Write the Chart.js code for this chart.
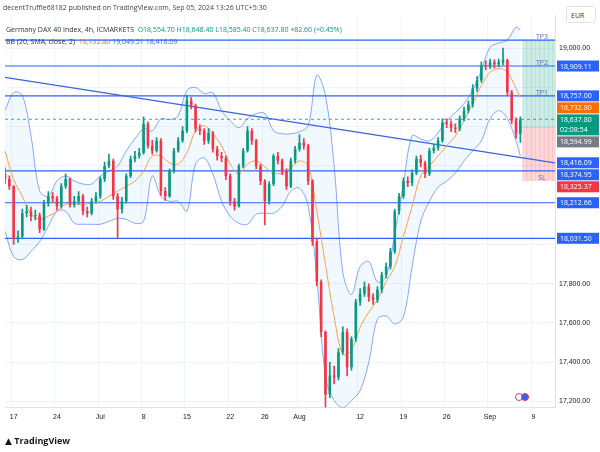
<!DOCTYPE html>
<html>
<head>
<meta charset="utf-8">
<script src="https://cdn.jsdelivr.net/npm/chart.js@4.4.1/dist/chart.umd.min.js"></script>
<style>
  html, body { margin: 0; padding: 0; background: #fff; }
  #wrap { position: relative; width: 600px; height: 452px; font-family: "Open Sans", "DejaVu Sans", sans-serif; }
  #chart { position: absolute; left: 0; top: 0; }
  .txt { position: absolute; white-space: nowrap; font-size: 7px; color: #333; }
  .up { color: #089981; }
  .org { color: #ff6d00; }
  .blu { color: #2962ff; }
  #eur { position: absolute; left: 566px; top: 6px; width: 30px; height: 17px; border: 1px solid #e0e3eb; border-radius: 3px;
         font-size: 7px; line-height: 17px; padding-left: 4px; box-sizing: border-box; background: #fff; color: #333; }
  .ico { position: absolute; width: 8px; height: 8px; border-radius: 50%; top: 393px; box-sizing: border-box; }
</style>
</head>
<body>
<div id="wrap">
  <canvas id="chart" width="600" height="452"></canvas>
  <div class="txt" style="left:3px;top:3px;color:#444;">decentTruffle68182 published on TradingView.com, Sep 05, 2024 13:26 UTC+5:30</div>
  <div class="txt" style="left:6px;top:25px;">Germany DAX 40 Index, 4h, ICMARKETS &nbsp;<span class="up">O18,554.70 H18,648.40 L18,585.40 C18,637.80 +82.60 (+0.45%)</span></div>
  <div class="txt" style="left:6px;top:37px;">BB (20, SMA, close, 2) &nbsp;<span class="org">18,732.80</span> <span class="blu">19,049.51</span> <span class="blu">18,416.09</span></div>
  <div id="eur">EUR</div>
  <div class="ico" style="left:515px;border:1px solid #ab47bc;"></div>
  <div class="ico" style="left:521px;border:1px solid #f23645;background:#2962ff;"></div>
  <div class="txt" style="left:5px;top:434px;font-size:9px;font-weight:bold;color:#131722;">&#9650; TradingView</div>
</div>
<script>
// 4h-ish candles, two per trading day, Jun 14 .. Sep 5, then empty future slots
const opens = [18360,18333,18297,18026,18041,18159,18169,18144,18149,18077,18210,18246,18236,18195,18297,18333,18205,18220,18246,18169,
  18159,18220,18246,18333,18400,18426,18246,18179,18220,18349,18436,18451,18467,18615,18503,18477,18528,18272,18246,18374,
  18477,18528,18579,18733,18708,18590,18579,18528,18569,18487,18451,18441,18349,18220,18195,18400,18477,18579,18528,18400,
  18323,18220,18308,18451,18426,18374,18297,18426,18487,18518,18503,18323,18015,17810,17554,17236,17333,17323,17451,17554,
  17374,17518,17708,17749,17785,17733,17718,17769,17846,17887,17964,18169,18246,18323,18313,18364,18436,18415,18359,18477,
  18492,18528,18621,18615,18595,18590,18641,18682,18713,18795,18836,18913,18908,18928,18918,18928,18938,18774,18631,18564];
const closes = [18333,18297,18026,18041,18159,18169,18144,18149,18077,18210,18246,18236,18195,18297,18333,18205,18220,18246,18169,18159,
  18220,18246,18333,18400,18426,18246,18179,18220,18349,18436,18451,18467,18615,18503,18477,18528,18272,18246,18374,18477,
  18528,18579,18733,18708,18590,18579,18528,18569,18487,18451,18441,18349,18220,18195,18400,18477,18579,18528,18400,18323,
  18220,18308,18451,18426,18374,18297,18426,18487,18518,18503,18323,18015,17810,17554,17236,17333,17323,17451,17554,17374,
  17518,17708,17749,17785,17733,17718,17769,17846,17887,17964,18169,18246,18323,18313,18364,18436,18415,18359,18477,18492,
  18528,18621,18615,18595,18590,18641,18682,18713,18795,18836,18913,18908,18928,18918,18928,18938,18774,18631,18564,18638];
const highs = [18390,18350,18300,18070,18180,18200,18190,18175,18160,18225,18270,18265,18245,18310,18360,18340,18245,18270,18255,18190,
  18235,18265,18345,18420,18460,18435,18260,18240,18360,18450,18475,18490,18650,18625,18530,18545,18540,18290,18385,18490,
  18545,18600,18760,18750,18715,18610,18590,18590,18575,18500,18470,18450,18360,18235,18410,18490,18600,18590,18535,18410,
  18330,18320,18460,18470,18435,18385,18440,18500,18560,18540,18510,18330,18030,17820,17560,17400,17380,17470,17580,17570,
  17530,17720,17775,17810,17800,17750,17785,17860,17905,17980,18180,18260,18340,18345,18380,18450,18455,18425,18490,18510,
  18545,18640,18640,18630,18615,18655,18700,18730,18815,18855,18930,18935,18945,18940,18945,19000,18945,18785,18645,18650];
const lows = [18310,18280,18000,18010,18030,18140,18120,18125,18060,18070,18195,18215,18175,18185,18285,18190,18190,18205,18150,18140,
  18150,18210,18235,18320,18390,18230,18030,18160,18210,18340,18420,18440,18460,18490,18460,18470,18250,18225,18240,18365,
  18470,18520,18570,18690,18575,18560,18510,18515,18470,18430,18420,18330,18200,18175,18190,18390,18470,18510,18385,18305,
  18100,18205,18300,18410,18355,18280,18290,18415,18475,18485,18305,17995,17790,17530,17170,17220,17290,17310,17440,17330,
  17360,17505,17690,17735,17710,17695,17705,17755,17830,17875,17955,18155,18235,18295,18300,18355,18395,18340,18350,18465,
  18480,18520,18595,18575,18570,18580,18630,18670,18700,18780,18825,18890,18895,18900,18905,18915,18760,18615,18540,18520];

// Bollinger band read once per trading day (slot 2*d), last point at the final candle
const bbUpper = [18682,18774,18759,18554,18272,18246,18323,18349,18323,18308,18308,18349,18374,18400,18477,18538,18590,18579,18641,18636,
  18656,18785,18800,18769,18774,18682,18631,18595,18641,18667,18667,18579,18564,18564,18574,18605,18862,18759,18400,17860,
  17745,17887,17913,17810,17836,18056,18308,18554,18538,18528,18569,18631,18672,18718,18785,18887,19005,19026,19041,19108,19092];
const bbMiddle = [18477,18330,18246,18154,18128,18144,18169,18205,18205,18205,18210,18220,18246,18272,18297,18323,18374,18451,18451,18415,
  18410,18467,18579,18605,18564,18503,18410,18359,18410,18426,18395,18364,18364,18390,18426,18400,18169,17897,17631,17441,
  17462,17579,17656,17718,17810,17887,18041,18195,18349,18400,18451,18503,18554,18631,18718,18810,18877,18897,18877,18795,18749];
const bbLower = [18067,17938,17923,17964,18015,18092,18169,18169,18108,18103,18103,18103,18118,18133,18128,18108,18118,18349,18246,18220,
  18220,18169,18410,18441,18359,18220,18144,18108,18103,18154,18159,18159,18195,18272,18287,18195,17836,17323,17205,17169,
  17205,17256,17400,17620,17636,17595,17631,17887,18118,18220,18292,18323,18364,18426,18477,18528,18641,18682,18641,18528,18451];

const levels = [19041, 18909.11, 18757, 18374.95, 18212.66, 18031.5];
const lastPrice = 18637.8;
const trendStart = 18851, trendEnd = 18416.09;
const entry = 18594.99, stopLoss = 18325.37, target = 19041;
const priceTicks = [17200,17400,17600,17800,18000,18200,18400,18600,18800,19000];
const shownTicks = [17200,17400,17600,17800,19000];

const tickLabels = {2:'17',12:'24',22:'Jul',32:'8',42:'15',52:'22',60:'26',68:'Aug',82:'12',92:'19',102:'26',112:'Sep',122:'9'};
const badges = [
  [18909.11,'18,909.11','#2962ff'],[18757,'18,757.00','#2962ff'],[18732.8,'18,732.80','#ff6d00'],
  [18637.8,'18,637.80','#089981','02:08:54'],[18594.99,'18,594.99','#787b86'],[18416.09,'18,416.09','#2962ff'],
  [18374.95,'18,374.95','#2962ff'],[18325.37,'18,325.37','#f23645'],[18212.66,'18,212.66','#2962ff'],[18031.5,'18,031.50','#2962ff']];
const zoneText = [[19041,'TP3'],[18909.11,'TP2'],[18757,'TP1'],[18325.37,'SL']];

const N = 128;
const labels = Array.from({length: N}, (_, i) => i);
const pad = (arr) => labels.map(i => i < arr.length ? arr[i] : null);
const perDay = (arr) => labels.map(i => {
  if (i === 119) return arr[60];
  return (i % 2 === 0 && i / 2 < 60) ? arr[i / 2] : null;
});
const ends = (a, b) => labels.map(i => i === 0 ? a : (i === N - 1 ? b : null));
const zone = (lo, hi) => labels.map(i => i >= 120 ? [lo, hi] : null);

const bodyColor = closes.map((c, i) => c >= opens[i] ? '#089981' : '#f23645');
const fmt = v => v.toLocaleString('en-US', {minimumFractionDigits: 2, maximumFractionDigits: 2});

const datasets = [
  { type: 'bar', data: pad(closes.map((c, i) => [opens[i], c])), backgroundColor: bodyColor, grouped: false,
    barPercentage: 0.6, categoryPercentage: 1, order: 0 },
  { type: 'bar', data: pad(closes.map((c, i) => [lows[i], highs[i]])), backgroundColor: bodyColor, grouped: false,
    barThickness: 1, order: 1 },
  { type: 'line', data: perDay(bbUpper), borderColor: 'rgba(41,98,255,0.55)', borderWidth: 1, pointRadius: 0,
    spanGaps: true, tension: 0.35, fill: '+1', backgroundColor: 'rgba(33,150,243,0.06)', order: 3 },
  { type: 'line', data: perDay(bbLower), borderColor: 'rgba(41,98,255,0.55)', borderWidth: 1, pointRadius: 0,
    spanGaps: true, tension: 0.35, fill: false, order: 3 },
  { type: 'line', data: perDay(bbMiddle), borderColor: '#ff9f50', borderWidth: 1, pointRadius: 0,
    spanGaps: true, tension: 0.35, fill: false, order: 2 },
  { type: 'line', data: ends(trendStart, trendEnd), borderColor: '#3f63d8', borderWidth: 1.3, pointRadius: 0, spanGaps: true, order: 4 },
  { type: 'line', data: ends(lastPrice, lastPrice), borderColor: '#089981', borderWidth: 0.8, borderDash: [3, 3], pointRadius: 0, spanGaps: true, order: 4 },
  { type: 'bar', data: zone(entry, target), backgroundColor: 'rgba(8,153,129,0.2)', grouped: false, barPercentage: 1, categoryPercentage: 1, order: 6 },
  { type: 'bar', data: zone(stopLoss, entry), backgroundColor: 'rgba(242,54,69,0.2)', grouped: false, barPercentage: 1, categoryPercentage: 1, order: 6 }
];
levels.forEach(v => datasets.push({ type: 'line', data: ends(v, v), borderColor: '#2962ff', borderWidth: 1.2,
  pointRadius: 0, spanGaps: true, order: 4 }));

const overlay = {
  id: 'overlay',
  afterDraw(chart) {
    const ctx = chart.ctx, y = chart.scales.y, x = chart.scales.x;
    ctx.save();
    ctx.font = '7px "Open Sans", sans-serif';
    ctx.fillStyle = '#5d6aa0';
    ctx.textAlign = 'center';
    zoneText.forEach(([v, t]) => ctx.fillText(t, x.getPixelForValue(124), y.getPixelForValue(v) - 1));
    let prevBottom = -1e9;
    ctx.textAlign = 'left';
    badges.forEach(([v, t, col, sub]) => {
      const h = sub ? 21 : 11;
      let top = y.getPixelForValue(v) - 5.5;
      if (top < prevBottom + 1) top = prevBottom + 1;
      prevBottom = top + h;
      ctx.fillStyle = col;
      ctx.fillRect(557, top, 42, h);
      ctx.fillStyle = '#fff';
      ctx.fillText(t, 560, top + 8);
      if (sub) ctx.fillText(sub, 560, top + 18);
    });
    ctx.restore();
  }
};

new Chart(document.getElementById('chart'), {
  type: 'bar',
  data: { labels, datasets },
  options: {
    responsive: false, animation: false,
    layout: { padding: { top: 15, bottom: 26, left: 0, right: 0 } },
    plugins: { legend: { display: false }, tooltip: { enabled: false } },
    scales: {
      x: {
        offset: false,
        grid: { color: ctx => tickLabels[ctx.index] !== undefined ? '#f0f3fa' : 'transparent', drawTicks: false },
        border: { color: '#e0e3eb' },
        ticks: { autoSkip: false, maxRotation: 0, color: '#131722', font: { size: 7 }, padding: 5,
                 callback: (v, i) => tickLabels[i] || '' }
      },
      y: {
        position: 'right', min: 17169, max: 19169,
        afterFit: s => { s.width = 45; },
        afterBuildTicks: s => { s.ticks = priceTicks.map(v => ({ value: v })); },
        grid: { color: '#f0f3fa', drawTicks: false },
        border: { color: '#e0e3eb' },
        ticks: { color: '#131722', font: { size: 7 }, padding: 4, callback: v => shownTicks.includes(v) ? fmt(v) : '' }
      }
    }
  },
  plugins: [overlay]
});
</script>
</body>
</html>
